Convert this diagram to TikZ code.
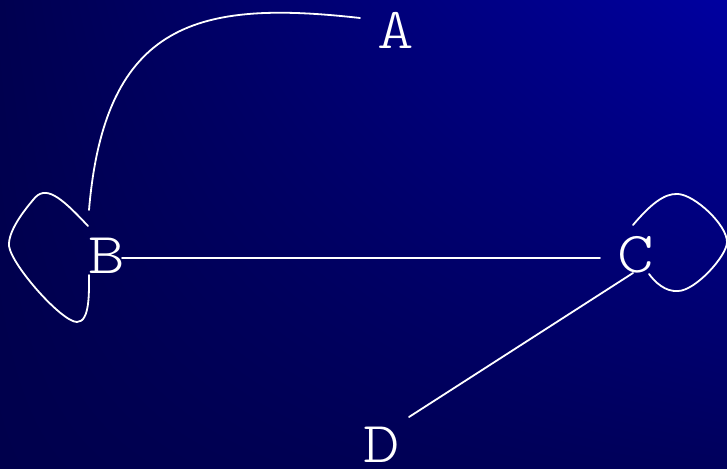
\documentclass[tikz,border=0pt]{standalone}
\usepackage{fontspec}
\newfontfamily\lblfont[FakeStretch=1.2]{Latin Modern Mono Light}
\usetikzlibrary{calc,shadings}
\definecolor{bgUL}{RGB}{0,0,80}
\definecolor{bgUR}{RGB}{0,0,160}
\definecolor{bgLL}{RGB}{0,0,76}
\definecolor{bgLR}{RGB}{0,0,92}
\tikzset{
  lbl/.style={text=white, font=\lblfont\fontsize{58}{58}\selectfont, inner sep=0pt, anchor=base},
  edge/.style={draw=white, line width=1.8pt, line cap=round}
}
\begin{document}
\begin{tikzpicture}[x=1pt,y=-1pt]
\shade[upper left=bgUL, upper right=bgUR, lower left=bgLL, lower right=bgLR] (0,0) rectangle (727,468);
\useasboundingbox (0,0) rectangle (727,468);
\node[lbl] (A) at (396,49) {A};
\node[lbl] (B) at (107,273) {B};
\node[lbl] (C) at (636,272) {C};
\node[lbl] (D) at (382,462) {D};
% A -- B
\draw[edge] ($(A.base)+(-36,-31)$) .. controls +(-160,-18) and +(16,-190) .. ($(B.base)+(-18,-63)$);
% B loop
\draw[edge] ($(B.base)+(-19,-47)$) .. controls (60,196) and (45,184) .. (33,200)
  .. controls (22,213) and (8,232) .. (9,246)
  .. controls (12,266) and (62,322) .. (77,322)
  .. controls (90,322) and (89,292) .. ($(B.base)+(-18,2)$);
% B -- C
\draw[edge] ($(B.base)+(15,-15)$) -- ($(C.base)+(-36,-14)$);
% C -- D
\draw[edge] ($(C.base)+(-3,1)$) -- ($(D.base)+(27,-45)$);
% C loop
\draw[edge] ($(C.base)+(-3,-47)$) .. controls (650,205) and (664,193) .. (678,194)
  .. controls (695,195) and (727,225) .. (727,242)
  .. controls (727,256) and (695,291) .. (678,291)
  .. controls (665,292) and (655,282) .. ($(C.base)+(13,2)$);
\end{tikzpicture}
\end{document}
